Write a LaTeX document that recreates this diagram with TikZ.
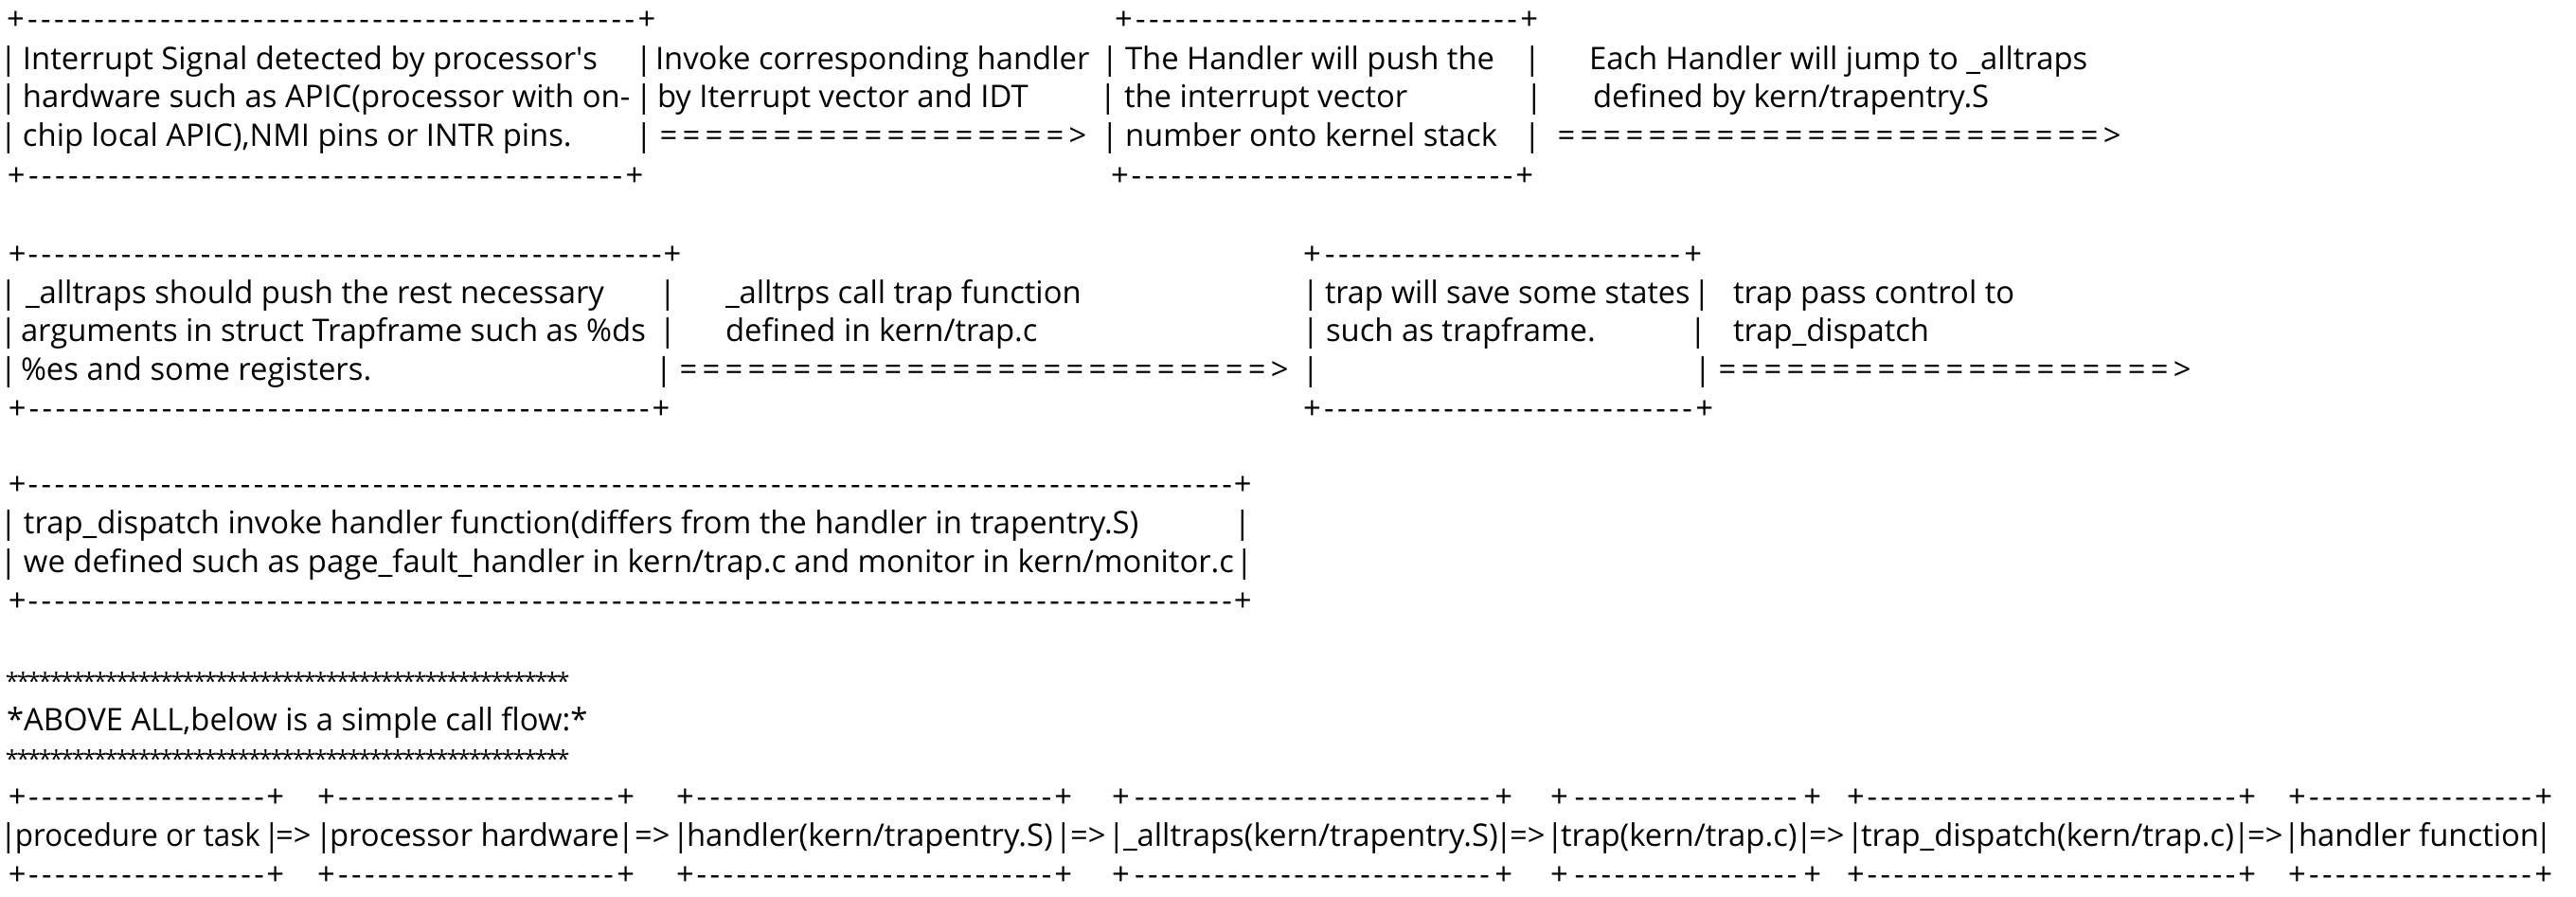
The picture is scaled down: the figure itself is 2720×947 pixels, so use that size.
\documentclass[tikz,border=0pt]{standalone}
\usepackage{fontspec}
\usepackage{graphicx}
\setmainfont{Open Sans}
\newcommand\myfs{\fontsize{16.4pt}{20pt}\selectfont}
\newcommand\myvb{\makebox[3pt]{|}}
\newcommand\mybrd[1]{\hbox to \dimexpr#1pt/2\relax{+\cleaders\hbox to 7pt{\hss-\hss}\hfill+}}
\newcommand\myeqar[1]{\hbox{\hbox to \dimexpr12pt*#1\relax{\cleaders\hbox to 12pt{\hss=\hss}\hfill}\hbox to 12pt{\hss>\hss}}}
\newcommand\mystars[1]{\hbox to \dimexpr5.82pt*#1\relax{\cleaders\hbox to 5.82pt{\hss\scalebox{0.76}{*}\hss}\hfill}}
\tikzset{
  txt/.style={anchor=base west, inner sep=0pt, outer sep=0pt, font=\myfs},
  vb/.style={anchor=base, inner sep=0pt, outer sep=0pt, font=\myfs},
}
\begin{document}
\begin{tikzpicture}[x=0.5pt,y=-0.5pt]
\fill[white] (0,0) rectangle (2720,947);
\useasboundingbox (0,0) rectangle (2720,947);
% ---------------- Row 1 ----------------
\node[txt] (r1ta) at (7,32) {\mybrd{685}};
\node[txt] (r1tb) at (1177,32) {\mybrd{447}};
\foreach \x [count=\i] in {9,680,1172,1618} \node[vb] (r1l1b\i) at (\x,74) {\myvb};
\node[txt] (r1a1) at (24,74) {Interrupt Signal detected by processor\textquotesingle s};
\node[txt] (r1b1) at (692,74) {Invoke corresponding handler};
\node[txt] (r1c1) at (1188,74) {The Handler will push the};
\node[txt] (r1d1) at (1678,74) {Each Handler will jump to \_alltraps};
\foreach \x [count=\i] in {9,680,1170,1620} \node[vb] (r1l2b\i) at (\x,114) {\myvb};
\node[txt] (r1a2) at (24,114) {hardware such as APIC(processor with on-};
\node[txt] (r1b2) at (694,114) {by Iterrupt vector and IDT};
\node[txt] (r1c2) at (1187,114) {the interrupt vector};
\node[txt] (r1d2) at (1682,114) {defined by kern/trapentry.S};
\foreach \x [count=\i] in {9,680,1172,1618} \node[vb] (r1l3b\i) at (\x,155) {\myvb};
\node[txt] (r1a3) at (24,155) {chip local APIC),NMI pins or INTR pins.};
\node[txt] (r1b3) at (694,155) {\myeqar{18}};
\node[txt] (r1c3) at (1188,155) {number onto kernel stack};
\node[txt] (r1d3) at (1642,155) {\myeqar{24}};
\node[txt] (r1ba) at (8,196) {\mybrd{671}};
\node[txt] (r1bb) at (1173,196) {\mybrd{446}};
% ---------------- Row 2 ----------------
\node[txt] (r2ta) at (9,279) {\mybrd{710}};
\node[txt] (r2tb) at (1376,279) {\mybrd{421}};
\foreach \x [count=\i] in {9,705,1384,1797} \node[vb] (r2l1b\i) at (\x,320) {\myvb};
\node[txt] (r2a1) at (27,320) {\_alltraps should push the rest necessary};
\node[txt] (r2b1) at (766,320) {\_alltrps call trap function};
\node[txt] (r2c1) at (1399,320) {\scalebox{0.985}[1]{trap will save some states}};
\node[txt] (r2d1) at (1830,320) {trap pass control to};
\foreach \x [count=\i] in {9,705,1384,1793} \node[vb] (r2l2b\i) at (\x,360) {\myvb};
\node[txt] (r2a2) at (22,360) {arguments in struct Trapframe such as \%ds};
\node[txt] (r2b2) at (766,360) {defined in kern/trap.c};
\node[txt] (r2c2) at (1400,360) {such as trapframe.};
\node[txt] (r2d2) at (1830,360) {trap\_dispatch};
\foreach \x [count=\i] in {9,701,1384,1798} \node[vb] (r2l3b\i) at (\x,401) {\myvb};
\node[txt] (r2a3) at (22,401) {\%es and some registers.};
\node[txt] (r2b3) at (715,401) {\myeqar{26}};
\node[txt] (r2d3) at (1812,401) {\myeqar{20}};
\node[txt] (r2ba) at (9,442) {\mybrd{698}};
\node[txt] (r2bb) at (1376,442) {\mybrd{433}};
% ---------------- Row 3 ----------------
\node[txt] (r3t) at (9,522) {\mybrd{1312}};
\foreach \x [count=\i] in {9,1312} \node[vb] (r3l1b\i) at (\x,563) {\myvb};
\node[txt] (r3a1) at (25,563) {trap\_dispatch invoke handler function(differs from the handler in trapentry.S)};
\foreach \x [count=\i] in {9,1314} \node[vb] (r3l2b\i) at (\x,604) {\myvb};
\node[txt] (r3a2) at (25,604) {we defined such as page\_fault\_handler in kern/trap.c and monitor in kern/monitor.c};
\node[txt] (r3b) at (9,645) {\mybrd{1312}};
% ---------------- Stars ----------------
\node[txt] (st1) at (7,728) {\mystars{51}};
\node[txt] (above) at (7,771) {*ABOVE ALL,below is a simple call flow:*};
\node[txt] (st2) at (7,810) {\mystars{51}};
% ---------------- Call flow ----------------
\foreach \x/\w [count=\i] in {9/291,335/335,714/418,1174/423,1637/286,1950/432,2416/279}{
  \node[txt] (ft\i) at (\x,852) {\mybrd{\w}};
  \node[txt] (fb\i) at (\x,934) {\mybrd{\w}};
}
\foreach \x [count=\i] in {9,287,342,661,719,1123,1179,1588,1642,1905,1959,2367,2420,2686} \node[vb] (fbar\i) at (\x,893) {\myvb};
\foreach \x [count=\i] in {291,670,1130,1594,1910,2373} \node[txt] (farr\i) at (\x,893) {=>};
\node[txt] (f1) at (16,893) {\scalebox{0.955}[1]{procedure or task}};
\node[txt] (f2) at (348,893) {processor hardware};
\node[txt] (f3) at (725,893) {handler(kern/trapentry.S)};
\node[txt] (f4) at (1186,893) {\_alltraps(kern/trapentry.S)};
\node[txt] (f5) at (1648,893) {trap(kern/trap.c)};
\node[txt] (f6) at (1965,893) {trap\_dispatch(kern/trap.c)};
\node[txt] (f7) at (2427,893) {handler function};
\end{tikzpicture}
\end{document}
